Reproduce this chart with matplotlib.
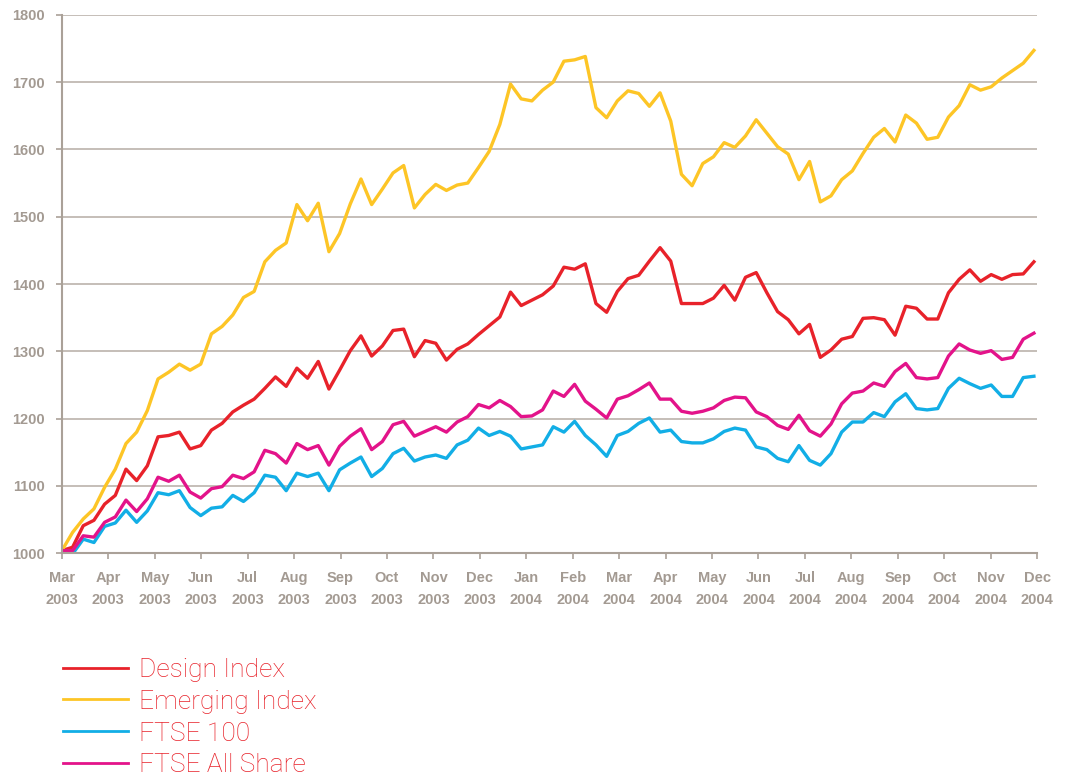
import matplotlib.pyplot as plt
import numpy as np

months = ['Mar\n2003', 'Apr\n2003', 'May\n2003', 'Jun\n2003', 'Jul\n2003', 'Aug\n2003',
          'Sep\n2003', 'Oct\n2003', 'Nov\n2003', 'Dec\n2003', 'Jan\n2004', 'Feb\n2004',
          'Mar\n2004', 'Apr\n2004', 'May\n2004', 'Jun\n2004', 'Jul\n2004', 'Aug\n2004',
          'Sep\n2004', 'Oct\n2004', 'Nov\n2004', 'Dec\n2004']

# weekly index values, rebased to 1000
design = [1004, 1009, 1041, 1049, 1073, 1086, 1125, 1108, 1130, 1173, 1175, 1180, 1155, 1160, 1183, 1193, 1210,
          1220, 1229, 1245, 1262, 1248, 1275, 1260, 1285, 1244, 1272, 1301, 1323, 1293, 1308, 1331, 1333,
          1292, 1316, 1312, 1287, 1303, 1311, 1325, 1338, 1351, 1388, 1368, 1376, 1384, 1397, 1425,
          1422, 1430, 1371, 1358, 1389, 1408, 1413, 1434, 1454, 1434, 1371, 1371, 1371, 1379, 1398, 1376, 1410,
          1417, 1387, 1359, 1347, 1326, 1340, 1291, 1302, 1318, 1322, 1349, 1350, 1347, 1324,
          1367, 1364, 1348, 1348, 1387, 1407, 1421, 1404, 1414, 1407, 1414, 1415, 1433]
emerging = [1004, 1031, 1051, 1066, 1098, 1125, 1163, 1180, 1212, 1259, 1269, 1281, 1272, 1281, 1326, 1337, 1354,
            1380, 1389, 1433, 1450, 1461, 1518, 1494, 1520, 1448, 1475, 1519, 1556, 1518, 1541, 1565, 1576,
            1513, 1533, 1548, 1539, 1547, 1550, 1573, 1597, 1637, 1697, 1675, 1672, 1688, 1700, 1731,
            1733, 1738, 1662, 1647, 1672, 1687, 1683, 1664, 1684, 1642, 1563, 1546, 1579, 1589, 1610, 1603, 1620,
            1644, 1624, 1604, 1593, 1555, 1582, 1522, 1531, 1555, 1568, 1594, 1618, 1631, 1611,
            1651, 1639, 1615, 1618, 1648, 1665, 1696, 1688, 1693, 1706, 1717, 1728, 1747]
ftse100 = [1004, 999, 1021, 1016, 1040, 1045, 1064, 1046, 1063, 1090, 1087, 1093, 1068, 1056, 1067, 1069, 1086,
           1077, 1090, 1116, 1113, 1093, 1119, 1114, 1119, 1093, 1124, 1134, 1143, 1114, 1126, 1148, 1156,
           1137, 1143, 1146, 1141, 1161, 1168, 1186, 1175, 1181, 1174, 1155, 1158, 1161, 1188, 1180,
           1196, 1175, 1161, 1144, 1175, 1181, 1193, 1201, 1180, 1183, 1166, 1164, 1164, 1170, 1181, 1186, 1183,
           1158, 1154, 1141, 1136, 1160, 1138, 1131, 1148, 1180, 1195, 1195, 1209, 1203, 1225,
           1237, 1215, 1213, 1215, 1245, 1260, 1252, 1245, 1250, 1233, 1233, 1261, 1263]
allshare = [1004, 1004, 1026, 1024, 1046, 1054, 1079, 1062, 1081, 1113, 1107, 1116, 1091, 1082, 1096, 1099, 1116,
            1111, 1121, 1153, 1148, 1134, 1163, 1154, 1160, 1131, 1159, 1174, 1185, 1154, 1166, 1191, 1196,
            1174, 1181, 1188, 1180, 1195, 1203, 1221, 1216, 1227, 1218, 1203, 1204, 1213, 1241, 1233,
            1251, 1226, 1214, 1201, 1229, 1234, 1243, 1253, 1229, 1229, 1211, 1208, 1211, 1216, 1227, 1232, 1231,
            1210, 1203, 1190, 1184, 1205, 1182, 1174, 1192, 1222, 1238, 1241, 1253, 1248, 1270,
            1282, 1261, 1259, 1261, 1293, 1311, 1302, 1297, 1301, 1288, 1291, 1318, 1327]

grey = '#a39a92'
fig = plt.figure(figsize=(10.67, 7.76), dpi=100)
ax = fig.add_axes([0.058, 0.287, 0.914, 0.694])

x = np.arange(len(design))
ax.plot(x, design, color='#e8222a', lw=2.4, label='Design Index')
ax.plot(x, emerging, color='#fdc526', lw=2.4, label='Emerging Index')
ax.plot(x, ftse100, color='#12aee6', lw=2.4, label='FTSE 100')
ax.plot(x, allshare, color='#e3138a', lw=2.4, label='FTSE All Share')

xmax = len(design) - 1
ax.set_xlim(0, xmax + 0.3)
ax.set_ylim(1000, 1800)
ax.set_yticks(range(1000, 1801, 100))
ax.set_xticks(np.linspace(0, xmax + 0.3, len(months)))
ax.set_xticklabels(months, linespacing=1.7)
ax.grid(axis='y', color='#b5aca4', lw=1.1)
ax.set_axisbelow(True)
for s in ['top', 'right']:
    ax.spines[s].set_visible(False)
for s in ['left', 'bottom']:
    ax.spines[s].set_color('#aaa198')
    ax.spines[s].set_linewidth(1.5)
ax.tick_params(colors='#aaa198', length=4, width=1.2)
for lab in ax.get_xticklabels() + ax.get_yticklabels():
    lab.set_color(grey)
    lab.set_fontweight('bold')
    lab.set_fontsize(10.5)
    lab.set_family('Liberation Sans')
ax.tick_params(axis='y', pad=8)
ax.tick_params(axis='x', pad=9)

leg = fig.legend(loc='upper left', bbox_to_anchor=(0.037, 0.183), frameon=False,
                 handlelength=2.46, handletextpad=0.42, labelspacing=0.30,
                 prop={'family': 'Roboto', 'weight': 'light', 'size': 19})
for t in leg.get_texts():
    t.set_color('#e8222a')
for h in leg.legend_handles:
    h.set_linewidth(2)

plt.savefig('out.png', dpi=100)
